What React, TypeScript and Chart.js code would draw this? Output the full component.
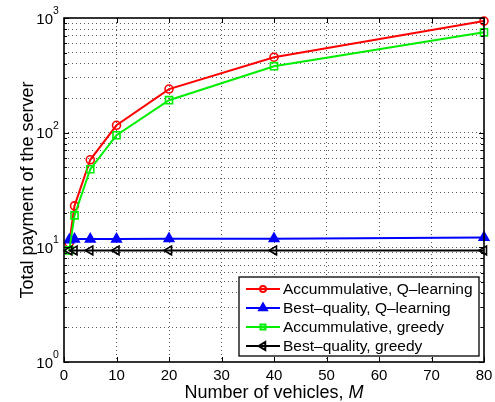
import { useEffect, useRef } from "react";
import { Chart, registerables } from "chart.js";
import { drawPoint } from "chart.js/helpers";
Chart.register(...registerables);

const vehicles = [1, 2, 5, 10, 20, 40, 80];
const accQ = [10.9, 23, 58, 116, 240, 455, 940];
const bestQ = [11.6, 11.8, 11.8, 11.8, 11.9, 11.9, 12.2];
const accGreedy = [9.4, 19, 48, 95, 192, 380, 750];
const bestGreedy = [9.4, 9.4, 9.4, 9.4, 9.4, 9.4, 9.4];

const xTicks = [0, 10, 20, 30, 40, 50, 60, 70, 80];
const yMajor = [1, 10, 100, 1000];
const yExponents = ["0", "1", "2", "3"];
const yGrid = [1, 2, 3, 4, 5, 6, 7, 8, 9, 10, 20, 30, 40, 50, 60, 70, 80, 90, 100, 200, 300, 400, 500, 600, 700, 800, 900, 1000];

const seriesNames = [
  "Accummulative, Q\u2013learning",
  "Best\u2013quality, Q\u2013learning",
  "Accummulative, greedy",
  "Best\u2013quality, greedy",
];
const seriesValues = [accQ, bestQ, accGreedy, bestGreedy];
const seriesColors = ["#ff0000", "#0000ff", "#00ee00", "#000000"];
const seriesMarkers = ["circle", "triangle", "rect", "triangle"];
const seriesRotation = [0, 0, 0, -90];
const seriesRadius = [4, 5.5, 5, 5];
const seriesFill = ["rgba(0,0,0,0)", "#0000ff", "rgba(0,0,0,0)", "rgba(0,0,0,0)"];
const legendRadius = [3, 4.5, 3.5, 4.5];

const FONT = '"Liberation Sans", Arial, Helvetica, sans-serif';

const decor = {
  id: "matlabDecor",
  afterDatasetsDraw(chart: any) {
    const { ctx, chartArea: a, scales } = chart;
    const xs = scales.x;
    const ys = scales.y;
    ctx.save();
    ctx.strokeStyle = "#000";
    ctx.lineWidth = 1;
    ctx.setLineDash([]);
    ctx.beginPath();
    xTicks.forEach((v) => {
      const px = Math.round(xs.getPixelForValue(v)) + 0.5;
      ctx.moveTo(px, a.bottom);
      ctx.lineTo(px, a.bottom - 5);
      ctx.moveTo(px, a.top);
      ctx.lineTo(px, a.top + 5);
    });
    yGrid.forEach((v) => {
      const len = yMajor.includes(v) ? 5 : 3;
      const py = Math.round(ys.getPixelForValue(v)) + 0.5;
      ctx.moveTo(a.left, py);
      ctx.lineTo(a.left + len, py);
      ctx.moveTo(a.right, py);
      ctx.lineTo(a.right - len, py);
    });
    ctx.stroke();
    ctx.lineWidth = 1.6;
    ctx.strokeRect(a.left, a.top, a.right - a.left, a.bottom - a.top);

    // legend
    const lw = 240;
    const lh = 79;
    const lx = a.right - 5 - lw;
    const ly = a.bottom - 6 - lh;
    ctx.fillStyle = "#fff";
    ctx.fillRect(lx, ly, lw, lh);
    ctx.lineWidth = 1.3;
    ctx.strokeStyle = "#000";
    ctx.strokeRect(lx, ly, lw, lh);
    ctx.font = `15.5px ${FONT}`;
    ctx.textBaseline = "middle";
    ctx.textAlign = "left";
    seriesNames.forEach((name, i) => {
      const y = ly + 12 + i * 19;
      ctx.strokeStyle = seriesColors[i];
      ctx.lineWidth = 2;
      ctx.beginPath();
      ctx.moveTo(lx + 7, y);
      ctx.lineTo(lx + 41, y);
      ctx.stroke();
      ctx.fillStyle = seriesFill[i];
      drawPoint(ctx, {
        pointStyle: seriesMarkers[i],
        radius: legendRadius[i],
        rotation: seriesRotation[i],
        borderWidth: 1.5,
      }, lx + 24, y);
      ctx.fillStyle = "#000";
      ctx.fillText(name, lx + 44, y + 1);
    });
    ctx.restore();
  },
  afterDraw(chart: any) {
    const { ctx, chartArea: a, scales } = chart;
    const xs = scales.x;
    const ys = scales.y;
    ctx.save();
    ctx.fillStyle = "#000";
    ctx.textBaseline = "middle";
    ctx.font = `15px ${FONT}`;
    ctx.textAlign = "center";
    xTicks.forEach((v) => {
      ctx.fillText(String(v), xs.getPixelForValue(v), a.bottom + 14);
    });
    yMajor.forEach((v, i) => {
      const py = ys.getPixelForValue(v);
      ctx.font = `15px ${FONT}`;
      ctx.textAlign = "right";
      ctx.fillText("10", a.left - 11, py + 1.5);
      ctx.font = `10.5px ${FONT}`;
      ctx.textAlign = "left";
      ctx.fillText(yExponents[i], a.left - 11, py - 7);
    });
    // x title
    const t1 = "Number of vehicles, ";
    const t2 = "M";
    ctx.font = `18px ${FONT}`;
    const w1 = ctx.measureText(t1).width;
    ctx.font = `italic 18px ${FONT}`;
    const w2 = ctx.measureText(t2).width;
    const cx = (a.left + a.right) / 2;
    const sx = cx - (w1 + w2) / 2;
    ctx.textAlign = "left";
    ctx.font = `18px ${FONT}`;
    ctx.fillText(t1, sx, a.bottom + 31);
    ctx.font = `italic 18px ${FONT}`;
    ctx.fillText(t2, sx + w1, a.bottom + 31);
    // y title
    ctx.save();
    ctx.translate(28, (a.top + a.bottom) / 2);
    ctx.rotate(-Math.PI / 2);
    ctx.font = `18px ${FONT}`;
    ctx.textAlign = "center";
    ctx.fillText("Total payment of the server", 0, 0);
    ctx.restore();
    ctx.restore();
  },
};

export default function App() {
  const ref = useRef<HTMLCanvasElement | null>(null);
  useEffect(() => {
    document.body.style.margin = "0";
    const canvas = ref.current;
    if (!canvas) return;
    const chart = new Chart(canvas, {
      type: "line",
      data: {
        datasets: seriesNames.map((name, i) => ({
          label: name,
          data: vehicles.map((x, j) => ({ x, y: seriesValues[i][j] })),
          borderColor: seriesColors[i],
          backgroundColor: seriesFill[i],
          borderWidth: 2,
          pointStyle: seriesMarkers[i] as any,
          pointRotation: seriesRotation[i],
          pointRadius: seriesRadius[i],
          pointBorderWidth: 1.6,
          pointBorderColor: seriesColors[i],
          pointBackgroundColor: seriesFill[i],
          tension: 0,
          fill: false,
          clip: false as any,
          order: 3 - i,
        })),
      },
      options: {
        responsive: false,
        animation: false,
        events: [],
        layout: { padding: { left: 64, right: 11, top: 18, bottom: 40 } },
        plugins: { legend: { display: false }, tooltip: { enabled: false } },
        scales: {
          x: {
            type: "linear",
            min: 0,
            max: 80,
            afterBuildTicks: (s: any) => {
              s.ticks = xTicks.map((v) => ({ value: v }));
            },
            afterFit: (s: any) => {
              s.height = 0;
            },
            ticks: { display: false },
            grid: {
              drawTicks: false,
              lineWidth: 1,
              color: (c: any) =>
                c.tick && (c.tick.value === 0 || c.tick.value === 80) ? "rgba(0,0,0,0)" : "rgba(60,60,60,0.85)",
            },
            border: { display: false, dash: [1, 3] },
          },
          y: {
            type: "logarithmic",
            min: 1,
            max: 1000,
            afterBuildTicks: (s: any) => {
              s.ticks = yGrid.map((v) => ({ value: v }));
            },
            afterFit: (s: any) => {
              s.width = 0;
            },
            ticks: { display: false },
            grid: {
              drawTicks: false,
              lineWidth: 1,
              color: (c: any) =>
                c.tick && (c.tick.value === 1 || c.tick.value === 1000) ? "rgba(0,0,0,0)" : "rgba(60,60,60,0.85)",
            },
            border: { display: false, dash: [1, 3] },
          },
        },
      },
      plugins: [decor],
    });
    return () => chart.destroy();
  }, []);
  return <canvas ref={ref} width={495} height={402} style={{ display: "block" }} />;
}
